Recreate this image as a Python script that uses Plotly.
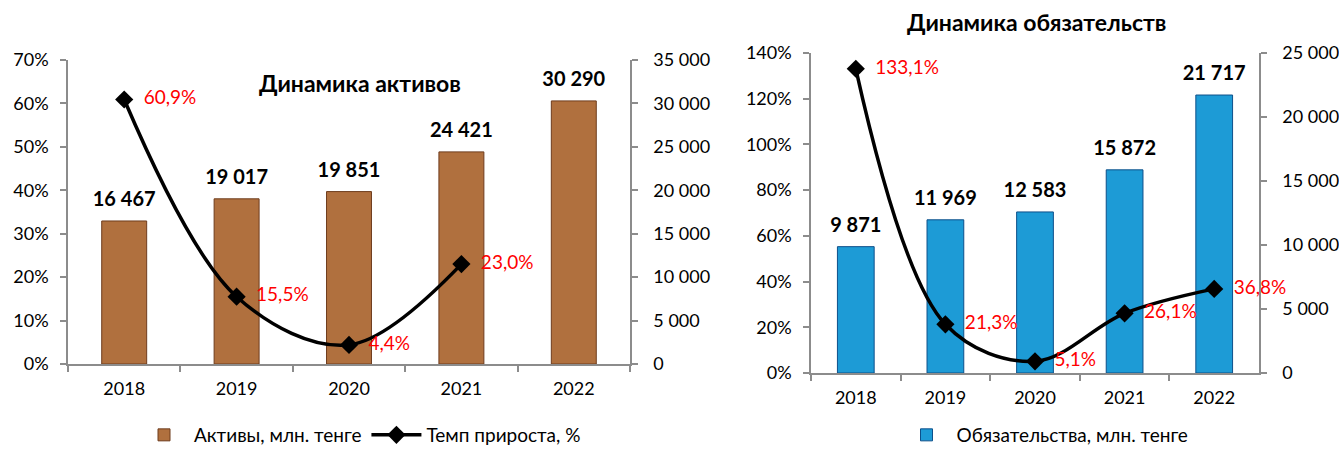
import plotly.graph_objects as go

years = ["2018", "2019", "2020", "2021", "2022"]
assets = [16467, 19017, 19851, 24421, 30290]
assets_growth = [0.609, 0.155, 0.044, 0.230]
liabilities = [9871, 11969, 12583, 15872, 21717]
liab_growth = [1.331, 0.213, 0.051, 0.261, 0.368]

FONT = "Lato"
GRAY = "#8c8c8c"
W, H = 1339, 454

fig = go.Figure()

# ---- left chart: assets
fig.add_trace(go.Bar(
    x=years, y=assets, xaxis="x", yaxis="y", width=0.4,
    name="Активы, млн. тенге", legend="legend",
    marker=dict(color="#b0703e", line=dict(color="#6e3c1d", width=1)),
))
fig.add_trace(go.Scatter(
    x=years, y=assets, xaxis="x", yaxis="y", showlegend=False, hoverinfo="skip",
    mode="markers+text", marker=dict(size=14, color="rgba(0,0,0,0)"),
    texttemplate="%{y:,}", textposition="top center", cliponaxis=False,
    textfont=dict(family=FONT, size=20, color="black", weight="bold"),
))
fig.add_trace(go.Scatter(
    x=years[:len(assets_growth)], y=assets_growth, xaxis="x", yaxis="y2",
    name="Темп прироста, %", legend="legend", mode="lines+markers+text",
    line=dict(color="black", width=3.5, shape="spline", smoothing=1.0),
    marker=dict(symbol="diamond", size=14, color="black"),
    texttemplate="  %{y:.1%}", textposition="middle right", cliponaxis=False,
    textfont=dict(family=FONT, size=19, color="#ff0000"),
))

# ---- right chart: liabilities
fig.add_trace(go.Bar(
    x=years, y=liabilities, xaxis="x2", yaxis="y3", width=0.41,
    name="Обязательства, млн. тенге", legend="legend2",
    marker=dict(color="#1d9bd6", line=dict(color="#0d4f8a", width=1)),
))
fig.add_trace(go.Scatter(
    x=years, y=liabilities, xaxis="x2", yaxis="y3", showlegend=False, hoverinfo="skip",
    mode="markers+text", marker=dict(size=14, color="rgba(0,0,0,0)"),
    texttemplate="%{y:,}", textposition="top center", cliponaxis=False,
    textfont=dict(family=FONT, size=20, color="black", weight="bold"),
))
fig.add_trace(go.Scatter(
    x=years, y=liab_growth, xaxis="x2", yaxis="y4", showlegend=False,
    mode="lines+markers+text",
    line=dict(color="black", width=3.5, shape="spline", smoothing=1.0),
    marker=dict(symbol="diamond", size=14, color="black"),
    texttemplate="  %{y:.1%}", textposition="middle right", cliponaxis=False,
    textfont=dict(family=FONT, size=19, color="#ff0000"),
))

axis_common = dict(showline=True, linecolor=GRAY, linewidth=1.5, ticks="outside",
                   tickcolor=GRAY, ticklen=6, tickwidth=1.5, showgrid=False,
                   zeroline=False, automargin=False,
                   tickfont=dict(family=FONT, size=18, color="black"))

fig.update_layout(
    width=W, height=H,
    margin=dict(l=0, r=0, t=0, b=0, pad=0),
    paper_bgcolor="white", plot_bgcolor="white",
    separators=", ",
    font=dict(family=FONT, color="black"),
    barmode="group",
    xaxis=dict(domain=[68/W, 630/W], anchor="y", type="category",
               tickson="boundaries", ticklabelstandoff=8, **axis_common),
    yaxis=dict(domain=[(H-364)/H, (H-60)/H], anchor="x", side="right",
               range=[0, 35000], dtick=5000, tickformat=",", ticklabelstandoff=12,
               **axis_common),
    yaxis2=dict(overlaying="y", anchor="x", side="left", range=[0, 0.7], dtick=0.1,
                tickformat=".0%", ticklabelstandoff=8, **axis_common),
    xaxis2=dict(domain=[811/W, 1259/W], anchor="y3", type="category",
                tickson="boundaries", ticklabelstandoff=8, **axis_common),
    yaxis3=dict(domain=[(H-373)/H, (H-53)/H], anchor="x2", side="right",
                range=[0, 25000], dtick=5000, tickformat=",", ticklabelstandoff=12,
                **axis_common),
    yaxis4=dict(overlaying="y3", anchor="x2", side="left", range=[0, 1.4], dtick=0.2,
                tickformat=".0%", ticklabelstandoff=8, **axis_common),
    legend=dict(orientation="h", x=360/W, xanchor="center", y=0,
                yanchor="bottom", font=dict(family=FONT, size=19, color="black"),
                bgcolor="rgba(0,0,0,0)", itemwidth=50),
    legend2=dict(orientation="h", x=1045/W, xanchor="center", y=0,
                 yanchor="bottom", font=dict(family=FONT, size=19, color="black"),
                 bgcolor="rgba(0,0,0,0)", itemwidth=50),
    annotations=[
        dict(text="<b>Динамика активов</b>", x=360/W, y=(H-83)/H,
             xref="paper", yref="paper", xanchor="center", yanchor="middle",
             showarrow=False, font=dict(family=FONT, size=23, color="black")),
        dict(text="<b>Динамика обязательств</b>", x=1036/W, y=(H-22)/H,
             xref="paper", yref="paper", xanchor="center", yanchor="middle",
             showarrow=False, font=dict(family=FONT, size=23, color="black")),
    ],
)

fig.write_html("out.html", config={"displayModeBar": False},
               post_script="document.body.style.margin='0';")
